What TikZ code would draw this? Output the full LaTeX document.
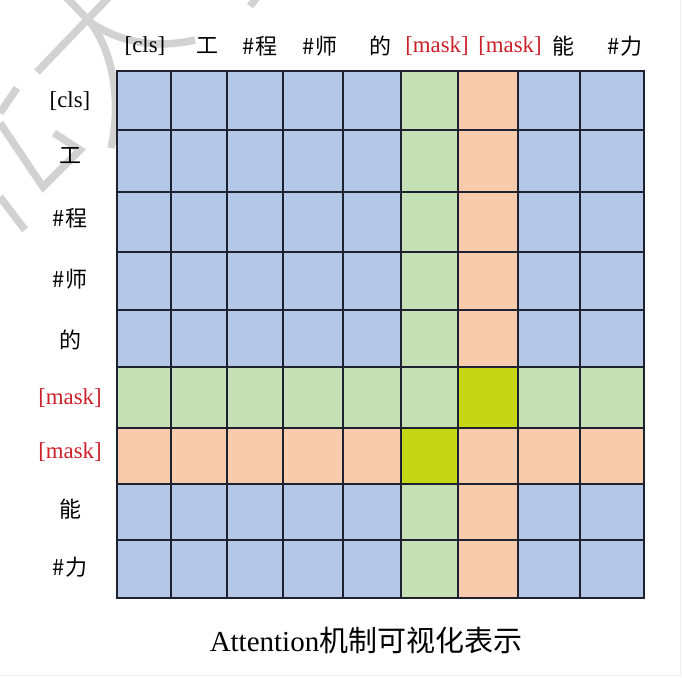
\documentclass[tikz,border=0pt]{standalone}
\usepackage{fontspec}
\setmainfont{Liberation Serif}
\newfontfamily\cjk{Noto Sans CJK SC}
\usetikzlibrary{arrows.meta, positioning}
\definecolor{blu}{HTML}{B4C7E7}
\definecolor{verde}{HTML}{C5E0B4}
\definecolor{arancio}{HTML}{F8CBAD}
\definecolor{lime}{HTML}{C4D614}
\definecolor{rossomask}{RGB}{204,32,40}
\definecolor{lineagriglia}{HTML}{1E2230}

\begin{document}
\begin{tikzpicture}[x=0.2mm, y=-0.2mm,
			griglia/.style={draw=lineagriglia, line width=1.1pt},
			filigrana/.style={draw=gray!35, line width=1.5mm},
			etich/.style={inner sep=0pt, font=\fontsize{13}{13}\selectfont},
			maschera/.style={etich, text=rossomask},
			cinese/.style={inner sep=0pt, font=\cjk\fontsize{12.5}{13}\selectfont}]
			
			\useasboundingbox (0,0) rectangle (682,678);
			
			% Filigrana in alto a sinistra
			\draw[filigrana] (110,-4) -- (37,72);
			\draw[filigrana] (17,88) -- (0,113);
			\draw[filigrana] (65,-4) -- (90,22) .. controls (112,50) and (122,100) .. (111,148);
			\draw[filigrana] (87,20) .. controls (115,40) and (150,50) .. (195,40);
			\draw[filigrana] (0,123) -- (43,187) -- (80,150) -- (54,133);
			\draw[filigrana] (0,197) -- (25,230);
			\draw[filigrana] (258,-4) -- (250,6);
			\draw[gray!12] (680,0) -- (680,675) -- (0,675);
			
			% Celle colorate
			\fill[blu] (117,71) rectangle (644,598);
			\fill[verde] (401,71) rectangle (458,598);
			\fill[arancio] (458,71) rectangle (518,598);
			\fill[verde] (117,367) rectangle (644,428);
			\fill[arancio] (117,428) rectangle (644,484);
			\fill[lime] (458,367) rectangle (518,428);
			\fill[lime] (401,428) rectangle (458,484);
			
			% Righe della griglia
			\foreach \x in {171,227,283,343,401,458,518,580}
				\draw[griglia] (\x,71) -- (\x,598);
			\foreach \y in {130,192,252,310,367,428,484,540}
				\draw[griglia] (117,\y) -- (644,\y);
			\draw[griglia] (117,71) rectangle (644,598);
			
			% Etichette delle colonne
			\foreach \n/\x/\s/\t in {1/145/etich/{[cls]}, 2/207/cinese/工, 3/260/cinese/\#程,
					4/320/cinese/\#师, 5/380/cinese/的, 6/437/maschera/{[mask]},
					7/510/maschera/{[mask]}, 8/563/cinese/能, 9/625/cinese/\#力}
				\node[\s] (c\n) at (\x,46) {\t};
			
			% Etichette delle righe
			\foreach \n/\y/\s/\t in {1/101/etich/{[cls]}, 2/156/cinese/工, 3/218/cinese/\#程,
					4/279/cinese/\#师, 5/340/cinese/的, 6/398/maschera/{[mask]},
					7/452/maschera/{[mask]}, 8/509/cinese/能, 9/567/cinese/\#力}
				\node[\s] (r\n) at (70,\y) {\t};
			
			% Didascalia
			\node[inner sep=0pt] (titolo) at (366,640)
				{\fontsize{16.5}{17}\selectfont Attention{\cjk 机制可视化表示}};
			
		\end{tikzpicture}
\end{document}
